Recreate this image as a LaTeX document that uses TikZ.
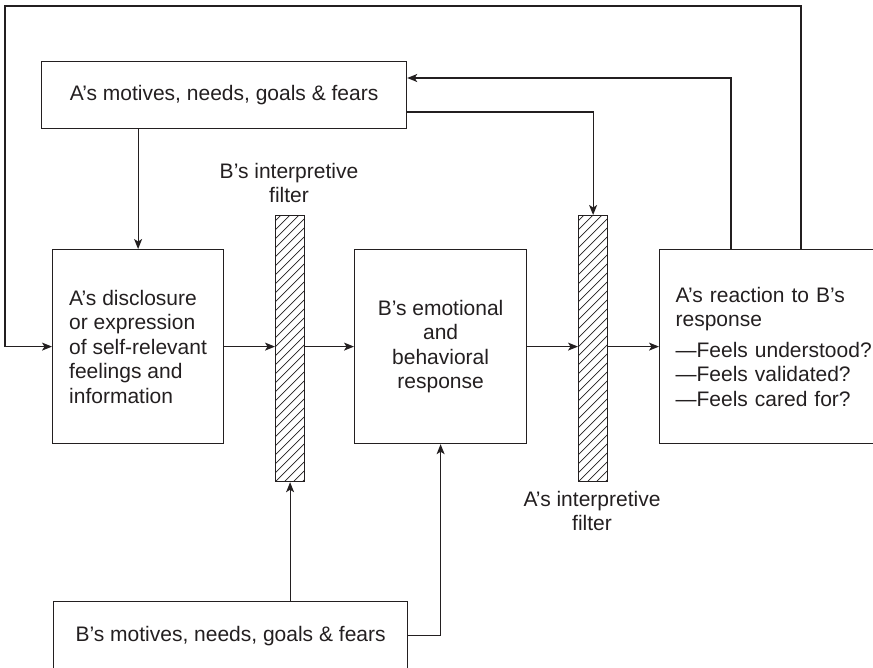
\documentclass[tikz,border=0pt]{standalone}
\usepackage{fontspec}
\setmainfont{Liberation Sans}
\usetikzlibrary{arrows.meta,calc}
\definecolor{ink}{HTML}{231F20}
\begin{document}
\begin{tikzpicture}[x=1pt,y=-1pt,
  every node/.style={font=\fontsize{21}{24.5}\selectfont, text=ink},
  box/.style={draw=ink, line width=1.2pt, rectangle, inner sep=0pt, anchor=north west},
  filterbar/.style={box, minimum width=29pt, minimum height=266pt, fill=white,
    path picture={
      \foreach \k in {-5,...,32}
        \draw[ink, line width=0.7pt]
          ([yshift=\k*9pt]path picture bounding box.south west) -- ++(45pt,45pt);
    }},
  conn/.style={draw=ink, line width=1.2pt},
  arr/.style={conn, -{Stealth[length=10pt,width=8pt,inset=2.5pt]}},
]
\useasboundingbox (0,0) rectangle (873,667);

% boxes
\node[box, minimum width=365pt, minimum height=67pt] (tbox) at (41,61)
  {A’s motives, needs, goals \& fears};
\node[box, minimum width=171pt, minimum height=194pt, align=left] (lbox) at (52,249)
  {A’s disclosure\\or expression\\of self-relevant\\feelings and\\information};
\node[box, minimum width=172pt, minimum height=194pt, align=center] (bbox) at (354,249)
  {B’s emotional\\and\\behavioral\\response};
\node[box, minimum width=232pt, minimum height=194pt, text width=200pt, inner xsep=16pt, align=left] (rbox) at (659,249)
  {A’s reaction to B’s\\response\\[6pt]—Feels understood?\\—Feels validated?\\—Feels cared for?};
\node[box, minimum width=354pt, minimum height=68pt] (bmbox) at (53,601)
  {B’s motives, needs, goals \& fears};

% interpretive filters
\node[filterbar] (f1) at (275,215) {};
\node[filterbar] (f2) at (578,215) {};
\node[align=center] (f1lab) at (289,183) {B’s interpretive\\filter};
\node[align=center] (f2lab) at (592,511) {A’s interpretive\\filter};

% loop corners
\coordinate (outerR) at (801,6);
\coordinate (outerL) at (5,6);

% connectors
\draw[arr] (lbox.north |- tbox.south) -- (lbox.north);
\draw[arr] (tbox.east |- 0,112) -| (f2.north);
\draw[arr] (rbox.north -| 731,0) |- (tbox.east |- 0,78);
\draw[arr] (rbox.north -| outerR) -- (outerR) -- (outerL) |- (lbox.west);
\draw[arr] (lbox.east) -- (f1.west |- lbox.east);
\draw[arr] (f1.east |- bbox.west) -- (bbox.west);
\draw[arr] (bbox.east) -- (f2.west |- bbox.east);
\draw[arr] (f2.east |- rbox.west) -- (rbox.west);
\draw[arr] (f1.south |- bmbox.north) -- (f1.south);
\draw[arr] (bmbox.east) -| (bbox.south);
\end{tikzpicture}
\end{document}
